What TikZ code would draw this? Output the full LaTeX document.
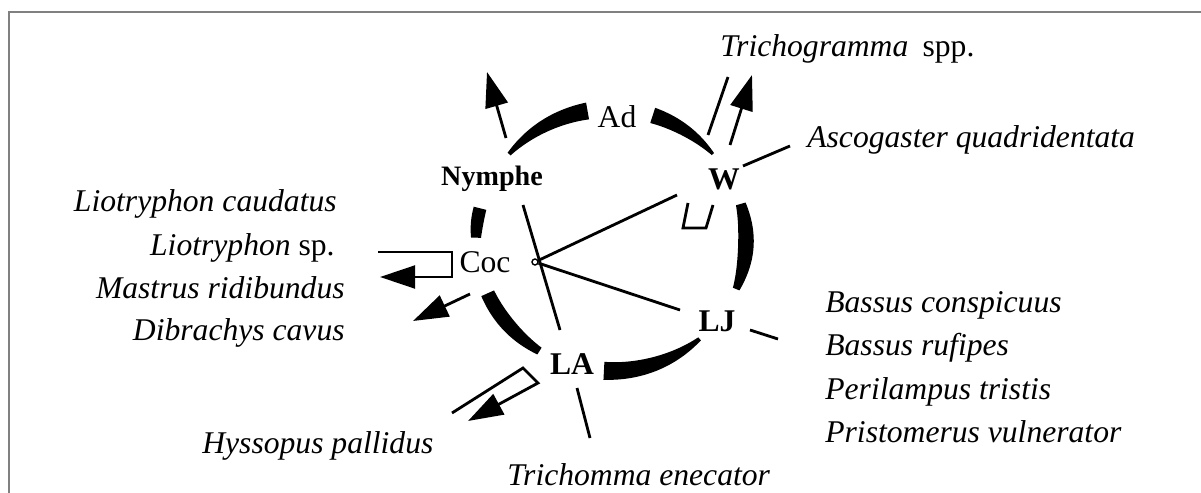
\documentclass[tikz,border=0pt]{standalone}
\usepackage{fontspec}
\setmainfont{Liberation Serif}
\usetikzlibrary{arrows.meta}
\definecolor{framegray}{RGB}{128,128,128}
\tikzset{
  stage/.style={inner sep=0pt,font=\fontsize{18}{20}\selectfont},
  boldstage/.style={inner sep=0pt,font=\fontsize{18}{20}\selectfont\bfseries},
  species/.style={inner sep=0pt,font=\fontsize{18}{20}\selectfont\itshape},
  link/.style={line width=1.6pt},
  attack/.style={link,-{Triangle[length=20pt,width=13pt]}},
  hubdot/.style={circle,draw,line width=0.8pt,inner sep=0pt,minimum size=1.2mm}
}
% ring piece: start angle, end angle, width at start, width at end, bulge
\newcommand{\brushpart}[5]{%
  \def\brushw{((#3)+((#4)-(#3))*(\x-(#1))/((#2)-(#1))+(#5)*sin(180*(\x-(#1))/((#2)-(#1))))}%
  \fill[shift={(mid)}] plot[domain=#1:#2,samples=40]
      ({(135+\brushw/2)*cos(\x)},{(131+\brushw/2)*sin(\x)})
    -- plot[domain=#2:#1,samples=40]
      ({(135-\brushw/2)*cos(\x)},{(131-\brushw/2)*sin(\x)}) -- cycle;}
\begin{document}
\begin{tikzpicture}[x=0.02cm,y=0.02cm]
  \useasboundingbox (0,0) rectangle (1201,-493);
  \draw[framegray,line width=1.7pt] (9,-493) -- (9,-12) -- (1201,-12);

  \coordinate (mid) at (611,-240);
  \brushpart{100}{139}{17}{4}{2}
  \brushpart{41}{72}{3}{16}{2}
  \brushpart{-22}{16}{7}{10}{7}
  \brushpart{-93}{-49}{18}{4}{3}
  \brushpart{204}{238}{14}{8}{3}
  \brushpart{166}{179}{13}{10}{1}

  \node[stage,anchor=base] (ad) at (617,-128) {Ad};
  \node[boldstage,anchor=base,font=\fontsize{16}{18}\selectfont\bfseries] (nym) at (492,-186) {Nymphe};
  \node[boldstage,anchor=base] (w) at (724,-190) {W};
  \node[stage,anchor=base] (coc) at (485,-273) {Coc};
  \node[boldstage,anchor=base] (lj) at (717,-332) {LJ};
  \node[boldstage,anchor=base] (la) at (572,-375) {LA};

  \node[species,anchor=base west] (trichogramma) at (720,-57) {Trichogramma\/\hspace{0.45em}\upshape spp.};
  \node[species,anchor=base west] (ascogaster) at (807,-148) {Ascogaster quadridentata};
  \node[species,anchor=base east] (caudatus) at (337,-212) {Liotryphon caudatus};
  \node[species,anchor=base east] (liosp) at (335,-256) {Liotryphon\/ \upshape sp.};
  \node[species,anchor=base east] (mastrus) at (345,-299) {Mastrus ridibundus};
  \node[species,anchor=base east] (dibrachys) at (345,-341) {Dibrachys cavus};
  \node[species,anchor=base west] (conspicuus) at (825,-313) {Bassus conspicuus};
  \node[species,anchor=base west] (rufipes) at (825,-356) {Bassus rufipes};
  \node[species,anchor=base west] (perilampus) at (825,-399) {Perilampus tristis};
  \node[species,anchor=base west] (pristomerus) at (825,-442) {Pristomerus vulnerator};
  \node[species,anchor=base west] (hyssopus) at (202,-453) {Hyssopus pallidus};
  \node[species,anchor=base west] (trichomma) at (507,-485) {Trichomma enecator};

  \node[hubdot] (hub) at (535,-262) {};

  \coordinate (nymout) at (506,-138);
  \coordinate (nymtip) at (487,-72);
  \coordinate (wout) at (730,-145);
  \coordinate (wtip) at (752,-75);
  \coordinate (win) at (708,-135);
  \coordinate (wtop) at (728,-77);
  \coordinate (wside) at (743,-166);
  \coordinate (ascoend) at (790,-146);
  \coordinate (wfoot) at (677,-195);
  \coordinate (ljfoot) at (680,-310);
  \coordinate (nymfoot) at (523,-205);
  \coordinate (latop) at (560,-330);
  \coordinate (cocA) at (378,-252);
  \coordinate (cocB) at (452,-252);
  \coordinate (cocC) at (452,-277);
  \coordinate (coctip) at (380,-277);
  \coordinate (cocout) at (470,-294);
  \coordinate (cocdown) at (413,-321);
  \coordinate (laA) at (452,-413);
  \coordinate (laB) at (523,-368);
  \coordinate (laC) at (538,-383);
  \coordinate (latip) at (468,-421);
  \coordinate (lafoot) at (577,-388);
  \coordinate (laend) at (590,-438);
  \coordinate (ljout) at (750,-330);
  \coordinate (ljend) at (778,-339);

  \draw[attack] (nymout) -- (nymtip);
  \draw[attack] (wout) -- (wtip);
  \draw[link] (win) -- (wtop);
  \draw[link] (wside) -- (ascoend);
  \draw[link] (688,-203) -- (683,-228) -- (706,-228) -- (713,-205);
  \draw[link] (hub) -- (wfoot);
  \draw[link] (hub) -- (ljfoot);
  \draw[link] (nymfoot) -- (latop);
  \draw[attack] (cocA) -- (cocB) -- (cocC) -- (coctip);
  \draw[attack] (cocout) -- (cocdown);
  \draw[attack] (laA) -- (laB) -- (laC) -- (latip);
  \draw[link] (lafoot) -- (laend);
  \draw[link] (ljout) -- (ljend);
\end{tikzpicture}
\end{document}
